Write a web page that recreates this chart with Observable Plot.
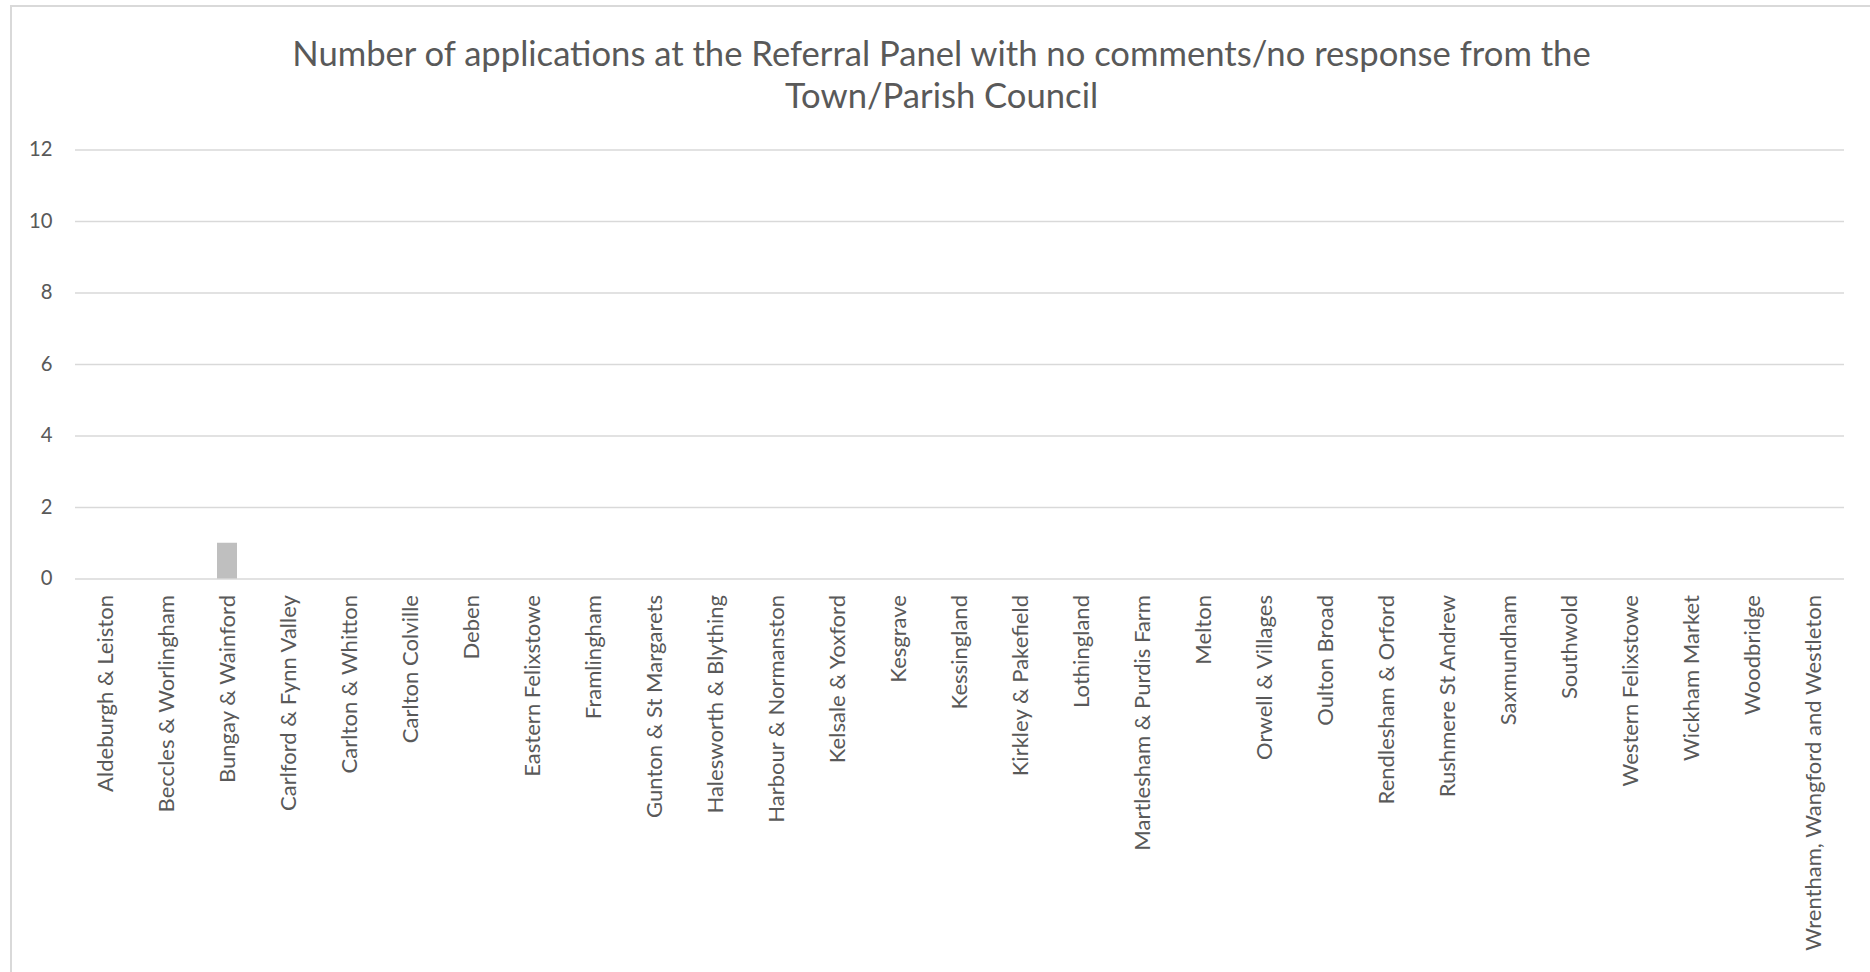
<!DOCTYPE html>
<html><head><meta charset="utf-8">
<script src="https://cdn.jsdelivr.net/npm/d3@7"></script>
<script src="https://cdn.jsdelivr.net/npm/@observablehq/plot@0.6"></script>
<style>
html,body{margin:0;padding:0;background:#fff;overflow:hidden}
#wrap{position:relative;width:1870px;height:972px;overflow:hidden}
#frame{position:absolute;left:10px;top:5px;width:1900px;height:1000px;border-left:2px solid #d9d9d9;border-top:2px solid #d9d9d9;box-sizing:border-box}
#title{position:absolute;left:0;width:1883px;text-align:center;color:#595959;font-family:Lato,sans-serif;font-weight:400;line-height:42px;white-space:nowrap}
#chart{position:absolute;left:0;top:130px}
</style>
</head><body>
<div id="wrap"><div id="frame"></div><div id="title"></div><div id="chart"></div></div>
<script>
const titleLines = ["Number of applications at the Referral Panel with no comments/no response from the", "Town/Parish Council"];
const categories = ["Aldeburgh & Leiston","Beccles & Worlingham","Bungay & Wainford","Carlford & Fynn Valley","Carlton & Whitton","Carlton Colville","Deben","Eastern Felixstowe","Framlingham","Gunton & St Margarets","Halesworth & Blything","Harbour & Normanston","Kelsale & Yoxford","Kesgrave","Kessingland","Kirkley & Pakefield","Lothingland","Martlesham & Purdis Farm","Melton","Orwell & Villages","Oulton Broad","Rendlesham & Orford","Rushmere St Andrew","Saxmundham","Southwold","Western Felixstowe","Wickham Market","Woodbridge","Wrentham, Wangford and Westleton"];
const values = [0,0,1,0,0,0,0,0,0,0,0,0,0,0,0,0,0,0,0,0,0,0,0,0,0,0,0,0,0];
const yTicks = [0,2,4,6,8,10,12];

const FAMILY = "Lato";
const ctx = document.createElement("canvas").getContext("2d");
function fit(text, target, weight){ ctx.font = (weight||400) + " 100px " + FAMILY; return 100 * target / ctx.measureText(text).width; }
const titleSize = fit(titleLines[0], 1301, 400);
const xSize = fit(categories[0], 197);
const ySize = fit("12", 23.5);

const t = document.getElementById("title");
t.style.fontSize = titleSize + "px";
t.style.top = (66 - (42 - 1.2*titleSize)/2 - 0.987*titleSize) + "px";
titleLines.forEach(l => { const d = document.createElement("div"); d.textContent = l; t.appendChild(d); });

const data = categories.map((c,i) => ({area: c, count: values[i]}));
const chart = Plot.plot({
  width: 1870, height: 842,
  marginTop: 19.5, marginBottom: 393.5, marginLeft: 75, marginRight: 26,
  style: {fontFamily: FAMILY, color: "#595959", background: "transparent", overflow: "visible"},
  x: {domain: categories, paddingInner: 0.67, paddingOuter: 0.335, label: null, axis: null},
  y: {domain: [0, 12], label: null, axis: null},
  marks: [
    Plot.gridY(yTicks, {stroke: "#d9d9d9", strokeOpacity: 1, strokeWidth: 1.5}),
    Plot.barY(data, {x: "area", y: "count", fill: "#bfbfbf"}),
    Plot.axisY({ticks: yTicks, tickSize: 0, tickPadding: 23, fontSize: ySize, label: null}),
    Plot.axisX({tickRotate: -90, tickSize: 0, tickPadding: 16, fontSize: xSize, label: null})
  ]
});
document.getElementById("chart").appendChild(chart);
</script>
</body></html>
